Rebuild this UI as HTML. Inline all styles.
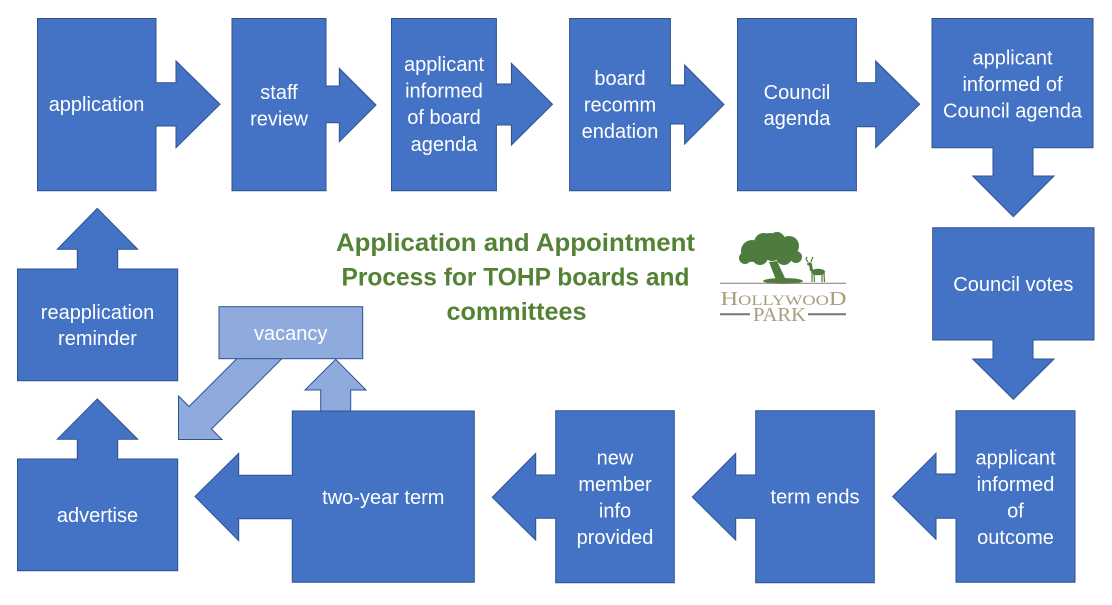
<!DOCTYPE html>
<html>
<head>
<meta charset="utf-8">
<style>
  html, body { margin: 0; padding: 0; background: #ffffff; }
  svg { display: block; }
  .t { font-family: "Liberation Sans", Arial, sans-serif; font-size: 20px; fill: #ffffff; text-anchor: middle; }
  .ti { font-family: "Liberation Sans", Arial, sans-serif; font-size: 25px; font-weight: bold; fill: #548235; text-anchor: middle; }
  .b { fill: #4472C4; stroke: #2F528F; stroke-width: 1; }
  .l { fill: #8FAADC; stroke: #2F528F; stroke-width: 1; }
</style>
</head>
<body>
<svg width="1112" height="605" viewBox="0 0 1112 605" xmlns="http://www.w3.org/2000/svg">
  <rect x="0" y="0" width="1112" height="605" fill="#ffffff"/>

  <!-- Top row -->
  <polygon class="b" points="37.5,18.5 156,18.5 156,82.7 176,82.7 176,61 220,104.3 176,147.7 176,126 156,126 156,190.7 37.5,190.7"/>
  <text class="t" x="96.5" y="111">application</text>

  <polygon class="b" points="232,18.5 326,18.5 326,86 339.3,86 339.3,68.3 376,105 339.3,141.7 339.3,122.7 326,122.7 326,190.7 232,190.7"/>
  <text class="t" x="279" y="99">staff</text>
  <text class="t" x="279" y="125.5">review</text>

  <polygon class="b" points="391.5,18.5 496.4,18.5 496.4,84 511.4,84 511.4,63.3 552.5,104.2 511.4,145 511.4,125 496.4,125 496.4,190.7 391.5,190.7"/>
  <text class="t" x="444" y="71">applicant</text>
  <text class="t" x="444" y="97.5">informed</text>
  <text class="t" x="444" y="124">of board</text>
  <text class="t" x="444" y="151">agenda</text>

  <polygon class="b" points="569.6,18.5 670.4,18.5 670.4,85 684.6,85 684.6,65 724,104.5 684.6,144 684.6,124 670.4,124 670.4,190.7 569.6,190.7"/>
  <text class="t" x="620" y="85">board</text>
  <text class="t" x="620" y="111.5">recomm</text>
  <text class="t" x="620" y="138">endation</text>

  <polygon class="b" points="737.5,18.5 856.4,18.5 856.4,82.7 875.7,82.7 875.7,61 919.6,104.3 875.7,147.7 875.7,126.7 856.4,126.7 856.4,190.7 737.5,190.7"/>
  <text class="t" x="797" y="99">Council</text>
  <text class="t" x="797" y="125">agenda</text>

  <polygon class="b" points="932,18.5 1093,18.5 1093,147.7 1033,147.7 1033,176 1054,176 1013.3,216.7 972.7,176 993,176 993,147.7 932,147.7"/>
  <text class="t" x="1012.5" y="64.5">applicant</text>
  <text class="t" x="1012.5" y="91">informed of</text>
  <text class="t" x="1012.5" y="117.5">Council agenda</text>

  <!-- Right column -->
  <polygon class="b" points="932.7,227.7 1094,227.7 1094,340 1033,340 1033,359 1054,359 1013.3,399.3 972.7,359 993,359 993,340 932.7,340"/>
  <text class="t" x="1013.3" y="291">Council votes</text>

  <polygon class="b" points="956,410.7 1075,410.7 1075,582.3 956,582.3 956,518.3 936,518.3 936,539.3 892.7,496.5 936,453.3 936,474 956,474"/>
  <text class="t" x="1015.5" y="464.5">applicant</text>
  <text class="t" x="1015.5" y="491">informed</text>
  <text class="t" x="1015.5" y="517.5">of</text>
  <text class="t" x="1015.5" y="544">outcome</text>

  <!-- Bottom row -->
  <polygon class="b" points="755.7,410.7 874.3,410.7 874.3,582.7 755.7,582.7 755.7,518.3 735.7,518.3 735.7,540 692.3,497 735.7,453.3 735.7,475 755.7,475"/>
  <text class="t" x="815" y="503.5">term ends</text>

  <polygon class="b" points="555.7,410.7 674.3,410.7 674.3,582.7 555.7,582.7 555.7,518.3 535.7,518.3 535.7,540 492.3,497.3 535.7,453.3 535.7,475 555.7,475"/>
  <text class="t" x="615" y="464.5">new</text>
  <text class="t" x="615" y="491">member</text>
  <text class="t" x="615" y="517.5">info</text>
  <text class="t" x="615" y="544">provided</text>

  <!-- light up arrow to vacancy -->
  <polygon class="l" points="320.7,411 320.7,390 305,390 335.7,359.3 366,390 350.7,390 350.7,411"/>

  <polygon class="b" points="292.3,411 474.3,411 474.3,582.3 292.3,582.3 292.3,518.7 238.7,518.7 238.7,540.7 195,496.5 238.7,453.3 238.7,475.3 292.3,475.3"/>
  <text class="t" x="383.3" y="504">two-year term</text>

  <!-- Left column -->
  <polygon class="b" points="17.5,459 77.3,459 77.3,439.3 57.3,439.3 97.3,399 137.7,439.3 117.7,439.3 117.7,459 177.7,459 177.7,570.7 17.5,570.7"/>
  <text class="t" x="97.5" y="522">advertise</text>

  <polygon class="b" points="17.5,269 77.3,269 77.3,249.3 57.3,249.3 97.3,208.3 137.7,249.3 117.7,249.3 117.7,269 177.7,269 177.7,380.7 17.5,380.7"/>
  <text class="t" x="97.5" y="319">reapplication</text>
  <text class="t" x="97.5" y="345">reminder</text>

  <!-- diagonal light arrow from vacancy -->
  <polygon class="l" points="241,354.5 189,406.5 178.5,396 178.5,439.5 222,439.5 211.5,429 286,354.5"/>

  <!-- vacancy box -->
  <rect class="l" x="219" y="306.7" width="143.7" height="52"/>
  <text class="t" x="290.7" y="340">vacancy</text>

  <!-- Title -->
  <text class="ti" x="515.5" y="251" textLength="359" lengthAdjust="spacingAndGlyphs">Application and Appointment</text>
  <text class="ti" x="515.5" y="285.5" textLength="348" lengthAdjust="spacingAndGlyphs">Process for TOHP boards and</text>
  <text class="ti" x="516.5" y="320" textLength="140" lengthAdjust="spacingAndGlyphs">committees</text>

  <!-- Logo -->
  <g fill="#4E7C3F">
    <circle cx="752" cy="251" r="11"/>
    <circle cx="764" cy="243" r="10"/>
    <circle cx="777" cy="240" r="8"/>
    <circle cx="789" cy="246" r="10"/>
    <circle cx="796" cy="257" r="6"/>
    <circle cx="760" cy="257" r="8"/>
    <circle cx="745" cy="258" r="6"/>
    <circle cx="784" cy="257" r="8"/>
    <circle cx="772" cy="252" r="9"/>
    <ellipse cx="770" cy="237" rx="8" ry="4"/>
    <polygon points="769,262 777,261 785,278 776,280"/>
    <ellipse cx="783" cy="281" rx="20" ry="3"/>
    <!-- deer -->
    <ellipse cx="818" cy="272" rx="7" ry="3.3"/>
    <polygon points="810,271 813,271 812,264 809,264"/>
    <ellipse cx="809.5" cy="264" rx="2.5" ry="1.6"/>
  </g>
  <g stroke="#4E7C3F" stroke-width="1.2" fill="none">
    <line x1="812" y1="274" x2="812" y2="282"/>
    <line x1="814" y1="274" x2="814.5" y2="282"/>
    <line x1="822" y1="274" x2="822" y2="282"/>
    <line x1="824" y1="273" x2="824.5" y2="282"/>
    <polyline points="808,262 806,259 807,257"/>
    <polyline points="811,262 812,259 813,257"/>
  </g>
  <line x1="720" y1="283.3" x2="846" y2="283.3" stroke="#7d8073" stroke-width="1"/>
  <text x="720.5" y="305" textLength="126" lengthAdjust="spacingAndGlyphs" fill="#A89E7A" style="font-family:'Liberation Serif', serif; font-size:20px;">H<tspan style="font-size:15px">OLLYWOO</tspan>D</text>
  <line x1="720" y1="314.3" x2="750" y2="314.3" stroke="#6E7B73" stroke-width="2"/>
  <line x1="808" y1="314.3" x2="846" y2="314.3" stroke="#6E7B73" stroke-width="2"/>
  <text x="753" y="321" textLength="53" lengthAdjust="spacingAndGlyphs" fill="#A89E7A" style="font-family:'Liberation Serif', serif; font-size:20px;">PARK</text>
</svg>
</body>
</html>
